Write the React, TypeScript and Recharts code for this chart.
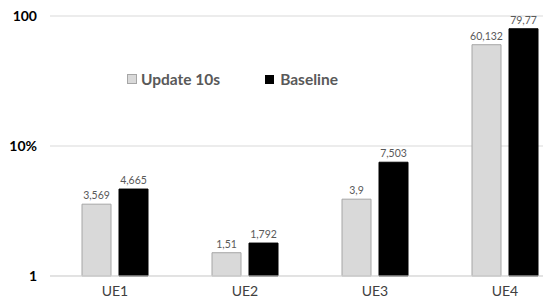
import { BarChart, Bar, XAxis, YAxis, CartesianGrid, LabelList } from 'recharts';

const categories = ['UE1', 'UE2', 'UE3', 'UE4'];
const update10s = [3.569, 1.51, 3.9, 60.132];
const baseline = [4.665, 1.792, 7.503, 79.77];
const yTicks = [1, 10, 100];
const yTickLabels = ['1', '10%', '100'];

const data = categories.map((name, i) => ({
  name,
  update: update10s[i],
  baseline: baseline[i],
}));

const FONT = 'Lato, "Open Sans", sans-serif';

const fmt = (v: any) => String(v).replace('.', ',');

// legend drawn as an overlay so it does not shift the plot area
const LegendBox = () => (
  <div style={{ position: 'absolute', left: 127, top: 70, display: 'flex', alignItems: 'center', fontFamily: FONT, fontWeight: 700, fontSize: 15.5, color: '#595959', whiteSpace: 'nowrap' }}>
    <span style={{ width: 8, height: 8, background: '#d9d9d9', border: '1px solid #a6a6a6', display: 'inline-block', marginRight: 4 }} />
    <span>Update 10s</span>
    <span style={{ width: 9, height: 9, background: '#000', display: 'inline-block', marginLeft: 45, marginRight: 6 }} />
    <span>Baseline</span>
  </div>
);

export default function App() {
  return (
    <div style={{ position: 'fixed', left: 0, top: 0, width: 543, height: 303, overflow: 'hidden', background: '#fff' }}>
      <BarChart
        width={570}
        height={303}
        data={data}
        margin={{ top: 16, right: 0, left: 0, bottom: 0 }}
        barSize={29}
        barGap={8}
      >
        <CartesianGrid vertical={false} stroke="#d9d9d9" />
        <XAxis
          dataKey="name"
          height={27}
          axisLine={{ stroke: '#d9d9d9' }}
          tickLine={false}
          tickMargin={4}
          tick={{ fontFamily: FONT, fontSize: 14, fill: '#404040' }}
        />
        <YAxis
          scale="log"
          domain={[1, 100]}
          ticks={yTicks}
          width={50}
          axisLine={false}
          tickLine={false}
          tickMargin={7}
          tickFormatter={(v: number) => yTickLabels[yTicks.indexOf(v)]}
          tick={{ fontFamily: FONT, fontSize: 14, fontWeight: 700, fill: '#000' }}
        />
        <Bar dataKey="update" name="Update 10s" fill="#d9d9d9" stroke="#a6a6a6" strokeWidth={1} isAnimationActive={false}>
          <LabelList dataKey="update" position="top" formatter={fmt} style={{ fontFamily: FONT, fontSize: 10.5, fill: '#595959' }} />
        </Bar>
        <Bar dataKey="baseline" name="Baseline" fill="#000" stroke="#000" strokeWidth={1} isAnimationActive={false}>
          <LabelList dataKey="baseline" position="top" formatter={fmt} style={{ fontFamily: FONT, fontSize: 10.5, fill: '#595959' }} />
        </Bar>
      </BarChart>
      <LegendBox />
    </div>
  );
}
